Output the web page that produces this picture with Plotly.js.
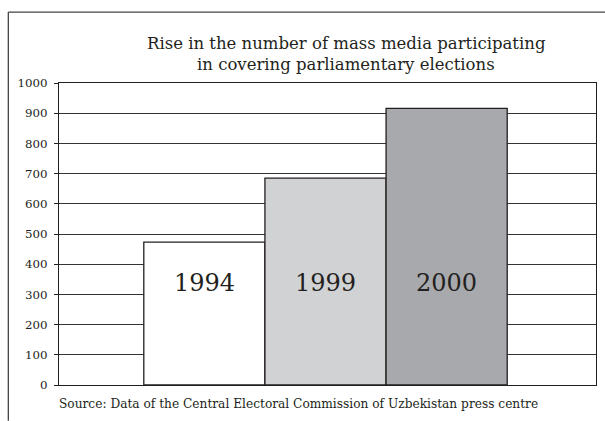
<!DOCTYPE html>
<html>
<head>
<meta charset="utf-8">
<script src="https://cdn.plot.ly/plotly-3.0.1.min.js"></script>
<style>html,body{margin:0;padding:0;background:#fff;}#chart{width:605px;height:421px;}</style>
</head>
<body>
<div id="chart"></div>
<script>
const years = ['1994', '1999', '2000'];
const mediaCount = [473, 685, 916];
const barColors = ['#ffffff', '#d1d2d4', '#a8a9ac'];
const yTicks = [0, 100, 200, 300, 400, 500, 600, 700, 800, 900, 1000];
const titleLines = ['Rise in the number of mass media participating', 'in covering parliamentary elections'];
const sourceText = 'Source: Data of the Central Electoral Commission of Uzbekistan press centre';

const W = 605, H = 421;
const L = 58.7, R = 596, T = 83, B = 385.3;
const px = x => (x - L) / (R - L);
const py = y => (B - y) / (B - T);
const FONT = '"DejaVu Serif", serif';
const INK = '#231f20';

const trace = {
  type: 'bar',
  x: years,
  y: mediaCount,
  width: 1,
  marker: {color: barColors, line: {color: INK, width: 1.3}},
  hoverinfo: 'skip'
};

const annotations = years.map((yr, i) => ({
  x: i, y: 338, xref: 'x', yref: 'y', text: yr, showarrow: false,
  font: {family: FONT, size: 24, color: INK}, xanchor: 'center', yanchor: 'middle'
}));
const titleY = [43, 64.5];
titleLines.forEach((t, i) => annotations.push({
  x: px(346), y: py(titleY[i]), xref: 'paper', yref: 'paper', text: t, showarrow: false,
  font: {family: FONT, size: 16.5, color: INK}, xanchor: 'center', yanchor: 'middle'
}));
annotations.push({
  x: 0, y: py(404), xref: 'paper', yref: 'paper', text: sourceText, showarrow: false,
  font: {family: FONT, size: 12.2, color: INK}, xanchor: 'left', yanchor: 'middle', xshift: -2
});

const layout = {
  width: W, height: H,
  margin: {l: L, r: W - R, t: T, b: H - B, pad: 0},
  paper_bgcolor: '#fff', plot_bgcolor: '#fff',
  showlegend: false,
  bargap: 0,
  xaxis: {
    type: 'category', range: [-1.2, 3.233], showticklabels: false, ticks: '',
    showgrid: false, zeroline: false, showline: true, linecolor: INK, linewidth: 1,
    mirror: true, fixedrange: true
  },
  yaxis: {
    range: [0, 1000], tickvals: yTicks, ticktext: yTicks.map(String),
    ticks: 'outside', ticklen: 4, tickcolor: INK, tickwidth: 1,
    tickfont: {family: FONT, size: 11.8, color: INK},
    showgrid: true, gridcolor: '#333333', gridwidth: 1,
    zeroline: false, showline: true, linecolor: INK, linewidth: 1, mirror: true,
    ticklabelstandoff: 4, fixedrange: true
  },
  annotations: annotations,
  shapes: [
    {type: 'line', xref: 'paper', yref: 'paper', x0: px(8), x1: px(8), y0: py(12), y1: py(421), line: {color: '#444', width: 1.3}},
    {type: 'line', xref: 'paper', yref: 'paper', x0: px(8), x1: px(605), y0: py(12), y1: py(12), line: {color: '#444', width: 1.3}}
  ]
};

Plotly.newPlot('chart', [trace], layout, {displayModeBar: false, staticPlot: true});
</script>
</body>
</html>
